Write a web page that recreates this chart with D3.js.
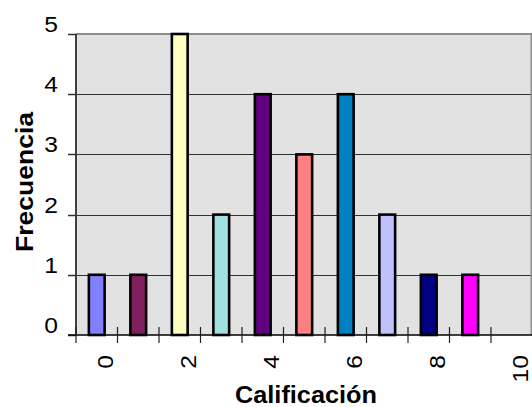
<!DOCTYPE html>
<html>
<head>
<meta charset="utf-8">
<script src="https://cdn.jsdelivr.net/npm/d3@7"></script>
<style>
  html, body { margin: 0; padding: 0; background: #fff; }
  svg { display: block; }
  text { font-family: "Liberation Sans", Arial, sans-serif; fill: #000; }
</style>
</head>
<body>
<svg id="chart" width="532" height="407"></svg>
<script>
// Frequency of each grade (0..10)
const categories = [0, 1, 2, 3, 4, 5, 6, 7, 8, 9, 10];
const frequencies = [1, 1, 5, 2, 4, 3, 4, 2, 1, 1, 0];
const barColors = ["#8080ff", "#802060", "#ffffc0", "#a0e0e0", "#600080",
                   "#ff8080", "#0080c0", "#c0c0ff", "#000080", "#ff00ff", "#ffffff"];
const xTickLabels = [0, 2, 4, 6, 8, 10];
const yTicks = [0, 1, 2, 3, 4, 5];

const svg = d3.select("#chart");
const plot = { left: 76, right: 532.5, top: 34, bottom: 335 };

const x = d3.scaleBand()
  .domain(categories)
  .range([plot.left, plot.right])
  .padding(0);
const y = d3.scaleLinear()
  .domain([0, 5])
  .range([plot.bottom, plot.top]);

// plot background
svg.append("rect")
  .attr("x", plot.left).attr("y", plot.top)
  .attr("width", plot.right - plot.left)
  .attr("height", plot.bottom - plot.top)
  .attr("fill", "#e2e2e2");

// horizontal gridlines
svg.append("g")
  .selectAll("line")
  .data(yTicks.filter(d => d > 0 && d < 5))
  .join("line")
  .attr("x1", plot.left).attr("x2", plot.right)
  .attr("y1", d => Math.round(y(d)) + 0.5)
  .attr("y2", d => Math.round(y(d)) + 0.5)
  .attr("stroke", "#303030").attr("stroke-width", 1);

// top and right border of plot area
svg.append("path")
  .attr("d", `M${plot.left},${plot.top}H${plot.right - 1}V${plot.bottom}`)
  .attr("fill", "none").attr("stroke", "#8c8c8c").attr("stroke-width", 2);

// bars
const barW = x.bandwidth() * 0.38;
svg.append("g")
  .selectAll("rect")
  .data(categories.map((c, i) => ({ c, v: frequencies[i], col: barColors[i] })).filter(d => d.v > 0))
  .join("rect")
  .attr("x", d => x(d.c) + x.bandwidth() / 2 - barW / 2)
  .attr("y", d => y(d.v))
  .attr("width", barW)
  .attr("height", d => y(0) - y(d.v))
  .attr("fill", d => d.col)
  .attr("stroke", "#000").attr("stroke-width", 2.6);

// y axis
const yAxis = svg.append("g");
yAxis.append("line")
  .attr("x1", plot.left).attr("x2", plot.left)
  .attr("y1", plot.top).attr("y2", plot.bottom)
  .attr("stroke", "#404040").attr("stroke-width", 2);
yAxis.selectAll("line.tick")
  .data(yTicks)
  .join("line").attr("class", "tick")
  .attr("x1", plot.left - 8).attr("x2", plot.left)
  .attr("y1", d => Math.round(y(d)) + 0.5)
  .attr("y2", d => Math.round(y(d)) + 0.5)
  .attr("stroke", "#303030").attr("stroke-width", 1.5);
yAxis.selectAll("text")
  .data(yTicks)
  .join("text")
  .attr("transform", d => `translate(58,${y(d) - 2}) scale(1.12,1)`)
  .attr("text-anchor", "end")
  .attr("font-size", 22)
  .text(d => d);

// x axis
const xAxis = svg.append("g");
xAxis.append("line")
  .attr("x1", plot.left - 8).attr("x2", plot.right)
  .attr("y1", plot.bottom).attr("y2", plot.bottom)
  .attr("stroke", "#000").attr("stroke-width", 1.5);
xAxis.selectAll("line.tick")
  .data(categories)
  .join("line").attr("class", "tick")
  .attr("x1", d => x(d)).attr("x2", d => x(d))
  .attr("y1", plot.bottom - 8).attr("y2", plot.bottom + 8)
  .attr("stroke", "#202020").attr("stroke-width", 1.2);
xAxis.selectAll("text")
  .data(xTickLabels)
  .join("text")
  .attr("transform", d => `translate(${x(d) + x.bandwidth() / 2 + 16},355) rotate(-90) scale(1.12,1)`)
  .attr("text-anchor", "end")
  .attr("font-size", 22)
  .text(d => d);

// axis titles
svg.append("text")
  .attr("transform", "translate(33,182) rotate(-90)")
  .attr("text-anchor", "middle")
  .attr("font-size", 23)
  .attr("font-weight", "bold")
  .attr("textLength", 140)
  .attr("lengthAdjust", "spacingAndGlyphs")
  .text("Frecuencia");
svg.append("text")
  .attr("x", 306).attr("y", 403)
  .attr("text-anchor", "middle")
  .attr("font-size", 23)
  .attr("font-weight", "bold")
  .attr("textLength", 142)
  .attr("lengthAdjust", "spacingAndGlyphs")
  .text("Calificación");
</script>
</body>
</html>
